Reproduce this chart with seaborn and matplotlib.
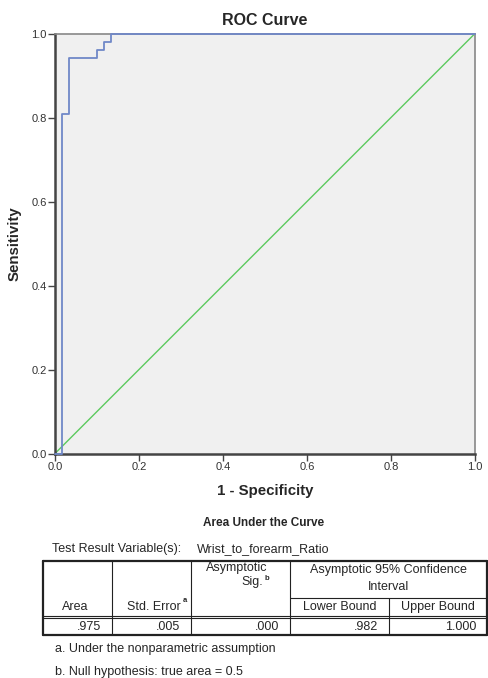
import numpy as np
import pandas as pd
import matplotlib
matplotlib.use("Agg")
import matplotlib.pyplot as plt
import seaborn as sns

# ROC step points
fpr = [0.0, 0.016, 0.034, 0.099, 0.117, 0.133, 1.0]
tpr = [0.0, 0.808, 0.942, 0.960, 0.980, 1.0, 1.0]
ref_line = [0.0, 1.0]

ticks = [0.0, 0.2, 0.4, 0.6, 0.8, 1.0]
tick_labels = ["0.0", "0.2", "0.4", "0.6", "0.8", "1.0"]

# AUC table contents
header_cols = ["Area", "Std. Error", "Asymptotic\nSig.", "Lower Bound", "Upper Bound"]
row_values = [".975", ".005", ".000", ".982", "1.000"]
test_var = "Wrist_to_forearm_Ratio"
footnotes = ["a. Under the nonparametric assumption", "b. Null hypothesis: true area = 0.5"]

sns.set_theme(style="white")
plt.rcParams["font.family"] = ["Liberation Sans", "DejaVu Sans"]

W, H = 488, 678
fig = plt.figure(figsize=(W / 100, H / 100), dpi=100)

ax = fig.add_axes([55 / W, 1 - 453.5 / H, 420 / W, 420 / H])
ax.set_facecolor("#f0f0f0")

roc = pd.DataFrame({"fpr": fpr, "tpr": tpr})
diag = pd.DataFrame({"x": ref_line, "y": ref_line})
sns.lineplot(data=diag, x="x", y="y", color="#5cc95e", linewidth=1.0, ax=ax)
sns.lineplot(data=roc, x="fpr", y="tpr", color="#7088c8", linewidth=1.3,
             drawstyle="steps-post", ax=ax, clip_on=False, zorder=5)

ax.set_xlim(0, 1)
ax.set_ylim(0, 1)
ax.set_xticks(ticks)
ax.set_xticklabels(tick_labels)
ax.set_yticks(ticks)
ax.set_yticklabels(tick_labels)
ax.tick_params(axis="both", direction="out", length=5, width=1, color="#444444",
               labelsize=8, labelcolor="#333333", bottom=True, left=True, pad=1)
for side in ["left", "bottom"]:
    ax.spines[side].set_color("#444444")
    ax.spines[side].set_linewidth(1.8)
for side in ["top", "right"]:
    ax.spines[side].set_color("#888888")
    ax.spines[side].set_linewidth(1.2)

ax.set_xlabel("1 - Specificity", fontsize=10.8, fontweight="bold", labelpad=9)
ax.set_ylabel("Sensitivity", fontsize=10.8, fontweight="bold")
ax.yaxis.set_label_coords(-0.08, 0.5)
ax.set_title("ROC Curve", fontsize=11.5, fontweight="bold", pad=6)

# ---- AUC table drawn in figure pixel coordinates ----
tab = fig.add_axes([0, 0, 1, 1])
tab.set_xlim(0, W)
tab.set_ylim(H, 0)
tab.axis("off")

fs = 9
tab.text(263.5, 523, "Area Under the Curve", ha="center", va="center", fontsize=8.5, fontweight="bold")
tab.text(52, 549, "Test Result Variable(s):", ha="left", va="center", fontsize=fs)
tab.text(197, 549, test_var, ha="left", va="center", fontsize=fs)

xs = [42.5, 112.3, 190.7, 290, 389.3, 487]
y_top, y_sub, y_hdr, y_bot = 561, 598.3, 617.3, 635
lc = "#222222"
# outer box
tab.plot([xs[0], xs[-1]], [y_top, y_top], color=lc, lw=1.6)
tab.plot([xs[0], xs[-1]], [y_bot, y_bot], color=lc, lw=1.6)
tab.plot([xs[0], xs[0]], [y_top, y_bot], color=lc, lw=1.6)
tab.plot([xs[-1], xs[-1]], [y_top, y_bot], color=lc, lw=1.6)
# header separator (double)
tab.plot([xs[0], xs[-1]], [y_hdr - 1, y_hdr - 1], color=lc, lw=0.8)
tab.plot([xs[0], xs[-1]], [y_hdr + 1, y_hdr + 1], color=lc, lw=0.8)
# inner vertical lines
for i in [1, 2, 3]:
    tab.plot([xs[i], xs[i]], [y_top, y_bot], color=lc, lw=0.8)
tab.plot([xs[4], xs[4]], [y_sub, y_bot], color=lc, lw=0.8)
tab.plot([xs[3], xs[5]], [y_sub, y_sub], color=lc, lw=0.8)

# header texts
tab.text(75, 607, header_cols[0], ha="center", va="center", fontsize=fs)
tab.text(154, 607, header_cols[1], ha="center", va="center", fontsize=fs)
tab.text(182.5, 600.5, "a", ha="left", va="center", fontsize=5.5, fontweight="bold")
tab.text(237, 568.5, "Asymptotic", ha="center", va="center", fontsize=fs)
tab.text(252, 582, "Sig.", ha="center", va="center", fontsize=fs)
tab.text(265, 578.5, "b", ha="left", va="center", fontsize=5.5, fontweight="bold")
tab.text((xs[3] + xs[5]) / 2, 570, "Asymptotic 95% Confidence", ha="center", va="center", fontsize=fs)
tab.text((xs[3] + xs[5]) / 2, 586.5, "Interval", ha="center", va="center", fontsize=fs)
tab.text((xs[3] + xs[4]) / 2, 606.7, header_cols[3], ha="center", va="center", fontsize=fs)
tab.text((xs[4] + xs[5]) / 2, 606.7, header_cols[4], ha="center", va="center", fontsize=fs)

# data row, right aligned
for i, v in enumerate(row_values):
    tab.text(xs[i + 1] - 11, 626.5, v, ha="right", va="center", fontsize=fs)

tab.text(55, 649, footnotes[0], ha="left", va="center", fontsize=fs)
tab.text(55, 672, footnotes[1], ha="left", va="center", fontsize=fs)

fig.savefig("out.png", dpi=100, facecolor="white")
